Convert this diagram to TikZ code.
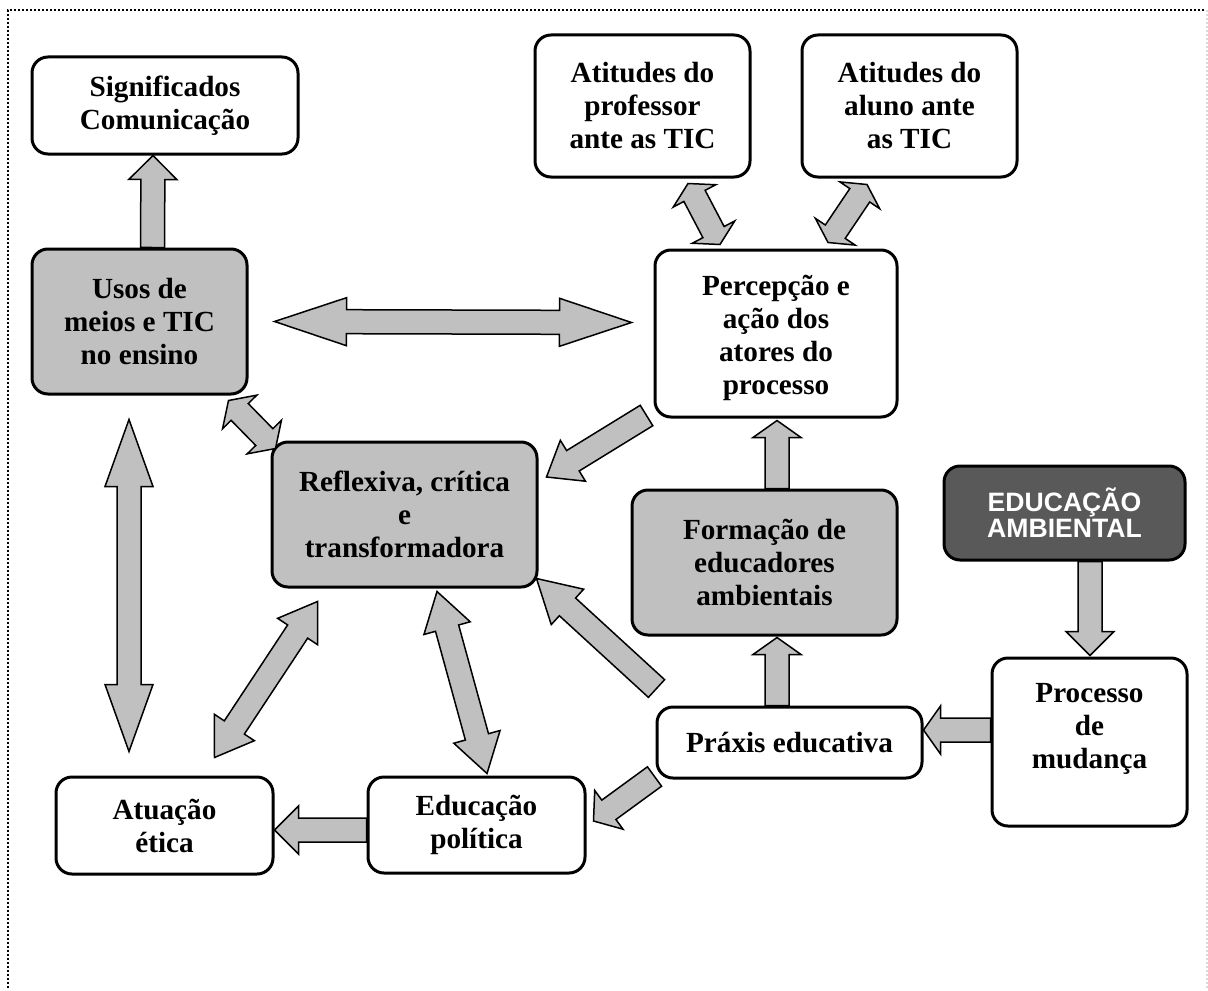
\documentclass[tikz,border=0pt]{standalone}
\usepackage{fontspec}
\setmainfont{Liberation Serif}
\newfontfamily\arialfont{Liberation Sans}
\usepackage{tikz}
\usetikzlibrary{calc}
\definecolor{Silver}{HTML}{C0C0C0}
\definecolor{Slate}{HTML}{595959}

% block arrows between two points: [head length]{from}{to}
\newcommand{\onearrow}[3][8pt]{%
  \coordinate (s) at (#2); \coordinate (e) at (#3);
  \coordinate (h) at ($(e)!#1!(s)$);
  \draw[blockarrow] ($(s)!6pt!90:(e)$) -- ($(h)!6pt!-90:(s)$) -- ($(h)!12pt!-90:(s)$)
    -- (e) -- ($(h)!12pt!90:(s)$) -- ($(h)!6pt!90:(s)$) -- ($(s)!6pt!-90:(e)$) -- cycle;}
\newcommand{\twoarrow}[3][8pt]{%
  \coordinate (s) at (#2); \coordinate (e) at (#3);
  \coordinate (ha) at ($(s)!#1!(e)$); \coordinate (hb) at ($(e)!#1!(s)$);
  \draw[blockarrow] (s) -- ($(ha)!12pt!-90:(s)$) -- ($(ha)!6pt!-90:(s)$)
    -- ($(hb)!6pt!-90:(s)$) -- ($(hb)!12pt!-90:(s)$) -- (e) -- ($(hb)!12pt!90:(s)$)
    -- ($(hb)!6pt!90:(s)$) -- ($(ha)!6pt!90:(s)$) -- ($(ha)!12pt!90:(s)$) -- cycle;}

\begin{document}
\begin{tikzpicture}[
    x=0.5pt,y=-0.5pt,
    box/.style={draw,line width=1.5pt,rounded corners=8pt,fill=white,align=center,
      inner sep=0pt,font=\fontsize{14.6}{16.5}\selectfont\bfseries},
    gbox/.style={box,fill=Silver},
    dbox/.style={box,fill=Slate,text=white,font=\arialfont\fontsize{13.3}{13}\selectfont\bfseries},
    blockarrow/.style={draw,fill=Silver,line width=0.75pt,line join=miter},
    frame/.style={line width=1pt,dash pattern=on 1pt off 1pt}
]
\useasboundingbox (0,0) rectangle (1208,990);
\draw[frame] (8,988) -- (8,10) -- (1205,10);
\draw[frame,draw=black!15] (1207,10) -- (1207,988);

\node[box,minimum width=133pt,minimum height=48.5pt] (sig) at (165,105.5) {Significados\\Comunicação};
\node[gbox,minimum width=107.5pt,minimum height=72.5pt] (usos) at (139.5,321.5) {Usos de\\meios e TIC\\no ensino};
\node[box,minimum width=107.5pt,minimum height=71pt] (prof) at (642.5,106) {Atitudes do\\professor\\ante as TIC};
\node[box,minimum width=107.5pt,minimum height=71pt] (aluno) at (909.5,106) {Atitudes do\\aluno ante\\as TIC};
\node[box,minimum width=121pt,minimum height=83.5pt] (perc) at (776,333.5) {\rule{0pt}{15pt}Percepção e\\ação dos\\atores do\\processo};
\node[gbox,minimum width=132.5pt,minimum height=72.5pt] (refl) at (404.5,514.5) {Reflexiva, crítica\\e\\transformadora};
\node[gbox,minimum width=132.5pt,minimum height=72.5pt] (form) at (764.5,562.5) {Formação de\\educadores\\ambientais};
\node[dbox,minimum width=120.5pt,minimum height=47pt] (edamb) at (1064.5,513) {EDUCAÇÃO\\AMBIENTAL};
\node[box,minimum width=97.5pt,minimum height=84pt] (proc) at (1089.5,742) {Processo\\de\\mudança\rule[-16pt]{0pt}{16pt}};
\node[box,minimum width=132.5pt,minimum height=35.5pt] (praxis) at (789.5,742.5) {Práxis educativa};
\node[box,minimum width=108.5pt,minimum height=48pt] (educ) at (476.5,825) {Educação\\política};
\node[box,minimum width=108.5pt,minimum height=48.5pt] (atua) at (164.5,825.5) {Atuação\\ética};

\onearrow[12pt]{$(usos.north)+(13,0)$}{$(sig.south)+(-12,0)$}
\twoarrow[36pt]{$(usos.east)+(26,0)$}{$(perc.west)+(-22,-11)$}
\twoarrow[8pt]{$(usos.south east)+(-20,5)$}{$(refl.north west)+(5,8)$}
\twoarrow[33.5pt]{$(usos.south)+(-10.5,24)$}{$(atua.north)+(-35.5,-24)$}
\twoarrow[18pt]{$(refl.south west)+(47,13)$}{$(atua.north east)+(-60,-18)$}
\twoarrow[19pt]{$(refl.south)+(32.5,3)$}{$(educ.north)+(10.5,-2)$}
\onearrow[15.5pt]{$(perc.south west)+(-7,-3)$}{$(refl.east)+(8,-37.5)$}
\onearrow[21pt]{$(praxis.north west)+(1,-17)$}{$(refl.south east)+(-2,-10)$}
\onearrow[8.5pt]{$(form.north)+(12.5,0)$}{$(perc.south)+(1,2)$}
\onearrow[8.5pt]{$(praxis.north)+(-12.5,0)$}{$(form.south)+(12.5,1)$}
\onearrow[12pt]{$(edamb.south)+(25.5,0)$}{$(proc.north)+(0.5,-1)$}
\onearrow[8.5pt]{$(proc.west)+(0,-12)$}{$(praxis.east)+(0,-12.5)$}
\onearrow[9.5pt]{$(praxis.south west)+(-1,-3)$}{$(educ.east)+(7,-4)$}
\onearrow[12pt]{$(educ.west)+(0,5)$}{$(atua.east)+(0,4.5)$}
\twoarrow[7pt]{$(prof.south)+(45.5,5)$}{$(perc.north)+(-56,-4)$}
\twoarrow[6.5pt]{$(aluno.south)+(-42.5,6)$}{$(perc.north)+(52,-6)$}
\end{tikzpicture}
\end{document}
